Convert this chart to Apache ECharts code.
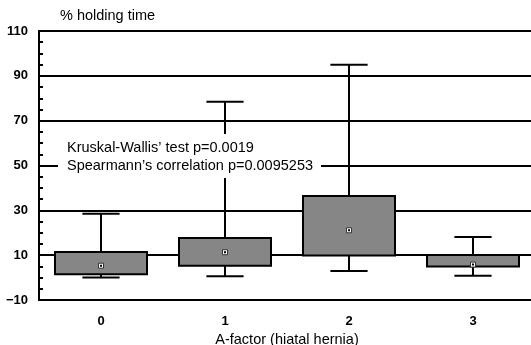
<!DOCTYPE html>
<html>
<head>
<meta charset="utf-8">
<script src="https://cdn.jsdelivr.net/npm/echarts@6/dist/echarts.min.js"></script>
<style>
  html, body { margin: 0; padding: 0; background: #fff; }
  #main { width: 531px; height: 345px; }
</style>
</head>
<body>
<div id="main"></div>
<script>
  // box plot values per A-factor grade
  var categories = ['0', '1', '2', '3'];
  var whiskerLow = [0, 0.6, 2.9, 0.8];
  var q1 = [1.5, 5.3, 9.9, 4.9];
  var median = [5.3, 11.3, 21.1, 5.8];
  var q3 = [11.4, 17.7, 36.4, 10.1];
  var whiskerHigh = [28.5, 78.4, 94.9, 18.1];

  var boxData = [];
  for (var i = 0; i < categories.length; i++) {
    boxData.push([i, whiskerLow[i], q1[i], median[i], q3[i], whiskerHigh[i]]);
  }

  var dom = document.getElementById('main');
  var myChart = echarts.init(dom, null, { renderer: 'canvas' });
  var font = 'Liberation Sans, Arial, sans-serif';

  function renderBox(params, api) {
    var idx = api.value(0);
    var low = api.coord([idx, api.value(1)]);
    var qa = api.coord([idx, api.value(2)]);
    var med = api.coord([idx, api.value(3)]);
    var qb = api.coord([idx, api.value(4)]);
    var high = api.coord([idx, api.value(5)]);
    var band = api.size([1, 0])[0];
    var bw = band * 0.742;
    var cw = band * 0.3;
    var x = low[0];
    var line = { stroke: '#000', lineWidth: 2 };
    return {
      type: 'group',
      children: [
        { type: 'line', shape: { x1: x, y1: high[1], x2: x, y2: qb[1] }, style: line },
        { type: 'line', shape: { x1: x, y1: low[1], x2: x, y2: qa[1] }, style: line },
        { type: 'line', shape: { x1: x - cw / 2, y1: high[1], x2: x + cw / 2, y2: high[1] }, style: line },
        { type: 'line', shape: { x1: x - cw / 2, y1: low[1], x2: x + cw / 2, y2: low[1] }, style: line },
        {
          type: 'rect',
          shape: { x: x - bw / 2, y: qb[1], width: bw, height: qa[1] - qb[1] },
          style: { fill: '#868686', stroke: '#000', lineWidth: 2 }
        },
        {
          type: 'rect',
          shape: { x: x - 2.5, y: med[1] - 2.5, width: 5, height: 5 },
          style: { fill: '#fff', stroke: '#333', lineWidth: 1 }
        },
        {
          type: 'rect',
          shape: { x: x - 1, y: med[1] - 1, width: 2, height: 2 },
          style: { fill: '#000' }
        }
      ]
    };
  }

  var option = {
    animation: false,
    grid: { left: 39, top: 31, width: 496, height: 269, outerBoundsMode: 'none' },
    xAxis: [
      {
        type: 'category',
        data: categories,
        position: 'bottom',
        name: 'A-factor (hiatal hernia)',
        nameLocation: 'middle',
        nameGap: 29,
        nameTextStyle: { fontFamily: font, fontSize: 14.5, color: '#000' },
        axisLine: { onZero: false, lineStyle: { color: '#000', width: 2 } },
        axisTick: { inside: true, alignWithLabel: true, length: 4, lineStyle: { color: '#000', width: 2 } },
        axisLabel: { margin: 15, fontFamily: font, fontSize: 13, fontWeight: 'bold', color: '#000' }
      },
      {
        type: 'category',
        data: categories,
        position: 'top',
        axisLine: { onZero: false, lineStyle: { color: '#000', width: 2 } },
        axisTick: { inside: true, alignWithLabel: true, length: 4, lineStyle: { color: '#000', width: 2 } },
        axisLabel: { show: false }
      }
    ],
    yAxis: {
      type: 'value',
      min: -10,
      max: 110,
      interval: 20,
      axisLine: { show: true, lineStyle: { color: '#000', width: 2 } },
      axisTick: { show: true, inside: true, length: 4, lineStyle: { color: '#000', width: 2 } },
      minorTick: { show: true, splitNumber: 4, length: 4, lineStyle: { color: '#000', width: 2 } },
      splitLine: { show: true, lineStyle: { color: '#000', width: 2 } },
      axisLabel: {
        margin: 11,
        fontFamily: font,
        fontSize: 13,
        fontWeight: 'bold',
        color: '#000',
        formatter: function (v) { return v < 0 ? '\u2212' + Math.abs(v) : '' + v; }
      }
    },
    graphic: [
      {
        type: 'text',
        left: 60,
        top: 8,
        style: { text: '% holding time', font: '14.5px ' + font, fill: '#000' }
      },
      {
        type: 'text',
        left: 58,
        top: 134,
        z: 100,
        style: {
          text: "Kruskal-Wallis\u2019 test p=0.0019\nSpearmann\u2019s correlation p=0.0095253",
          font: '14.5px ' + font,
          lineHeight: 18,
          fill: '#000',
          backgroundColor: '#fff',
          padding: [5, 8, 3, 9]
        }
      }
    ],
    series: [
      {
        type: 'custom',
        xAxisIndex: 0,
        renderItem: renderBox,
        encode: { x: 0, y: [1, 2, 3, 4, 5] },
        data: boxData,
        z: 10
      }
    ]
  };

  myChart.setOption(option);
</script>
</body>
</html>
